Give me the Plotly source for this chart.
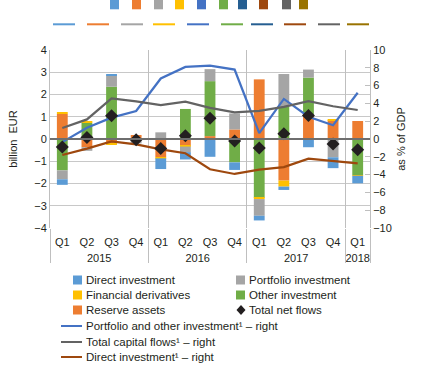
import plotly.graph_objects as go

# ---------------- data ----------------
quarters = ["Q1", "Q2", "Q3", "Q4", "Q1", "Q2", "Q3", "Q4", "Q1", "Q2", "Q3", "Q4", "Q1"]
years = ["2015"] * 4 + ["2016"] * 4 + ["2017"] * 4 + ["2018"]

# billion EUR (left axis)
reserve_assets = [1.13, -0.37, -0.22, 0.18, -0.82, -0.30, 0.13, 0.43, 2.68, -1.87, 1.10, 0.85, 0.81]
other_investment = [-1.41, 0.73, 2.35, 0.0, 0.0, 1.35, 2.47, -1.05, -2.64, 1.45, 1.66, 0.0, -1.62]
financial_derivatives = [0.06, 0.05, -0.05, 0.0, -0.05, -0.04, 0.0, 0.0, -0.06, -0.27, 0.0, 0.04, -0.03]
portfolio_investment = [-0.40, -0.16, 0.51, -0.20, 0.30, -0.25, 0.54, 0.72, -0.75, 1.47, 0.36, -0.82, 0.0]
direct_investment = [-0.25, 0.0, 0.04, 0.0, -0.48, -0.33, -0.80, -0.34, -0.21, -0.15, -0.37, -0.49, -0.34]
total_net_flows = [-0.36, 0.07, 1.05, -0.03, -0.43, 0.15, 0.93, -0.09, -0.40, 0.24, 1.06, -0.22, -0.48]

# % of GDP (right axis)
portfolio_other_line = [-0.35, 1.27, 2.4, 3.15, 6.8, 8.1, 8.25, 7.8, 0.67, 4.5, 2.5, 1.55, 5.2]
total_capital_line = [1.24, 2.2, 4.57, 4.23, 3.8, 4.2, 3.5, 3.0, 3.15, 3.6, 4.24, 3.68, 3.26]
direct_line = [-1.8, -1.09, -0.26, -0.6, -1.16, -1.6, -3.4, -3.93, -3.45, -3.15, -2.2, -2.5, -2.73]

left_ticks = [-4, -3, -2, -1, 0, 1, 2, 3, 4]
right_ticks = [-10, -8, -6, -4, -2, 0, 2, 4, 6, 8, 10]

# ---------------- styles ----------------
C_DIRECT = "#5B9BD5"
C_PORT = "#A5A5A5"
C_DERIV = "#FFC000"
C_OTHER = "#70AD47"
C_RES = "#ED7D31"
C_BLUE = "#4472C4"
C_GRAY = "#636363"
C_BROWN = "#9E480E"
C_TXT = "#231F20"
C_GRID = "#C8C8C8"
FONT = "Liberation Sans, Arial, sans-serif"

W, H = 421, 370
L, R, T, B = 50, 51, 50, 142
PW, PH = W - L - R, H - T - B


def px(xp):
    return (xp - L) / PW


def py(yp):
    return (H - B - yp) / PH


n = len(quarters)
idx = list(range(n))

# year groups: centres (for labels) and boundaries (for dividers)
year_names, year_centres, bounds = [], [], [-0.5]
start = 0
for i in range(1, n + 1):
    if i == n or years[i] != years[i - 1]:
        year_names.append(years[start])
        year_centres.append((start + i - 1) / 2)
        bounds.append(i - 0.5)
        start = i

fig = go.Figure()
# empty helper traces so the overlaid year / divider axes get drawn
for xa in ("x3", "x2"):
    fig.add_trace(go.Scatter(x=[], y=[], xaxis=xa, yaxis="y", showlegend=False, hoverinfo="skip"))

bar_series = [
    ("Reserve assets", reserve_assets, C_RES),
    ("Other investment", other_investment, C_OTHER),
    ("Financial derivatives", financial_derivatives, C_DERIV),
    ("Portfolio investment", portfolio_investment, C_PORT),
    ("Direct investment", direct_investment, C_DIRECT),
]
for name, vals, col in bar_series:
    fig.add_trace(go.Bar(x=idx, y=vals, name=name, marker=dict(color=col, line=dict(width=0)),
                         xaxis="x", yaxis="y", showlegend=False))

line_series = [
    ("Portfolio and other investment¹ – right", portfolio_other_line, C_BLUE),
    ("Total capital flows¹ – right", total_capital_line, C_GRAY),
    ("Direct investment¹ – right", direct_line, C_BROWN),
]
for name, vals, col in line_series:
    fig.add_trace(go.Scatter(x=idx, y=vals, name=name, mode="lines",
                             line=dict(color=col, width=2.25), xaxis="x", yaxis="y2", showlegend=False))

fig.add_trace(go.Scatter(x=idx, y=total_net_flows, name="Total net flows", mode="markers",
                         marker=dict(symbol="diamond", size=10, color=C_TXT),
                         xaxis="x", yaxis="y3", showlegend=False))

xr = [-0.5, n - 0.5]
fig.update_layout(
    width=W, height=H,
    margin=dict(l=L, r=R, t=T, b=B, pad=0),
    paper_bgcolor="white", plot_bgcolor="white",
    font=dict(family=FONT, size=11, color=C_TXT),
    barmode="relative", bargap=0.56,
    xaxis=dict(range=xr, tickvals=idx, ticktext=quarters, showgrid=False, ticks="",
               ticklabelstandoff=6, tickfont=dict(size=11, color=C_TXT),
               showline=False, zeroline=False),
    xaxis2=dict(range=xr, overlaying="x", anchor="y", side="bottom", tickvals=year_centres,
                ticktext=year_names, ticks="", ticklabelstandoff=22, showgrid=False,
                tickfont=dict(size=11, color=C_TXT), showline=False, zeroline=False),
    xaxis3=dict(range=xr, overlaying="x", anchor="y", side="bottom", tickvals=bounds,
                showticklabels=False, ticks="outside", ticklen=34, tickcolor="#BFBFBF", tickwidth=1,
                showgrid=True, gridcolor="#BFBFBF", gridwidth=1, showline=False, zeroline=False),
    yaxis=dict(range=[-4, 4], tickvals=left_ticks, showgrid=True, gridcolor=C_GRID, gridwidth=1,
               zeroline=False, showline=True, linecolor="#BFBFBF", linewidth=1, ticks="",
               tickfont=dict(size=11), title=dict(text="billion  EUR", standoff=14, font=dict(size=11))),
    yaxis2=dict(range=[-10, 10], tickvals=right_ticks, overlaying="y", side="right", showgrid=False,
                zeroline=False, showline=True, linecolor="#BFBFBF", linewidth=1, ticks="inside",
                ticklen=5, tickcolor="#BFBFBF", tickfont=dict(size=11),
                title=dict(text="as % of GDP", standoff=6, font=dict(size=11))),
    yaxis3=dict(range=[-4, 4], overlaying="y", visible=False),
)

shapes = []
# zero line
shapes.append(dict(type="line", xref="paper", yref="y", x0=0, x1=1, y0=0, y1=0,
                   line=dict(color="#6E6E6E", width=2), layer="above"))

# top stray legend decorations
sq_left = [110, 132, 154, 175, 197, 219, 238, 259, 282, 299]
sq_cols = ["#5B9BD5", "#ED7D31", "#A5A5A5", "#FFC000", "#4472C4", "#70AD47", "#255E91", "#9E480E", "#636363", "#997300"]
for xl, col in zip(sq_left, sq_cols):
    shapes.append(dict(type="rect", xref="paper", yref="paper", x0=px(xl), x1=px(xl + 9),
                       y0=py(0), y1=py(9.3), fillcolor=col, line=dict(width=0), layer="above"))
ln_left = [53, 87, 121, 153, 187, 221, 251, 284, 318, 347]
for xl, col in zip(ln_left, sq_cols):
    shapes.append(dict(type="line", xref="paper", yref="paper", x0=px(xl), x1=px(xl + 22),
                       y0=py(24.3), y1=py(24.3), line=dict(color=col, width=2), layer="above"))

annotations = []
# legend: squares
legend_sq = [
    ("Direct investment", C_DIRECT, 73, 280),
    ("Financial derivatives", C_DERIV, 73, 295),
    ("Reserve assets", C_RES, 73, 310),
    ("Portfolio investment", C_PORT, 236, 280),
    ("Other investment", C_OTHER, 236, 295),
]
for name, col, xl, yc in legend_sq:
    shapes.append(dict(type="rect", xref="paper", yref="paper", x0=px(xl), x1=px(xl + 9),
                       y0=py(yc - 4.5), y1=py(yc + 4.5), fillcolor=col, line=dict(width=0)))
    annotations.append(dict(text=name, xref="paper", yref="paper", x=px(xl + 11), y=py(yc),
                            xanchor="left", yanchor="middle", showarrow=False,
                            font=dict(size=11.5, color=C_TXT)))
# diamond legend
dx, dy = 241, 310
shapes.append(dict(type="path", xref="paper", yref="paper",
                   path=f"M {px(dx)},{py(dy-5)} L {px(dx+4.5)},{py(dy)} L {px(dx)},{py(dy+5)} L {px(dx-4.5)},{py(dy)} Z",
                   fillcolor=C_TXT, line=dict(width=0)))
annotations.append(dict(text="Total net flows", xref="paper", yref="paper", x=px(247), y=py(dy),
                        xanchor="left", yanchor="middle", showarrow=False,
                        font=dict(size=11.5, color=C_TXT)))
# legend: lines
for (name, vals, col), yc in zip(line_series, [326, 342, 357]):
    shapes.append(dict(type="line", xref="paper", yref="paper", x0=px(61), x1=px(82),
                       y0=py(yc), y1=py(yc), line=dict(color=col, width=2)))
    annotations.append(dict(text=name, xref="paper", yref="paper", x=px(84), y=py(yc),
                            xanchor="left", yanchor="middle", showarrow=False,
                            font=dict(size=11.5, color=C_TXT)))

fig.update_layout(shapes=shapes, annotations=annotations)
fig.write_html("out.html", config={"displayModeBar": False},
               post_script="document.body.style.margin='0px';document.body.style.overflow='hidden';")
